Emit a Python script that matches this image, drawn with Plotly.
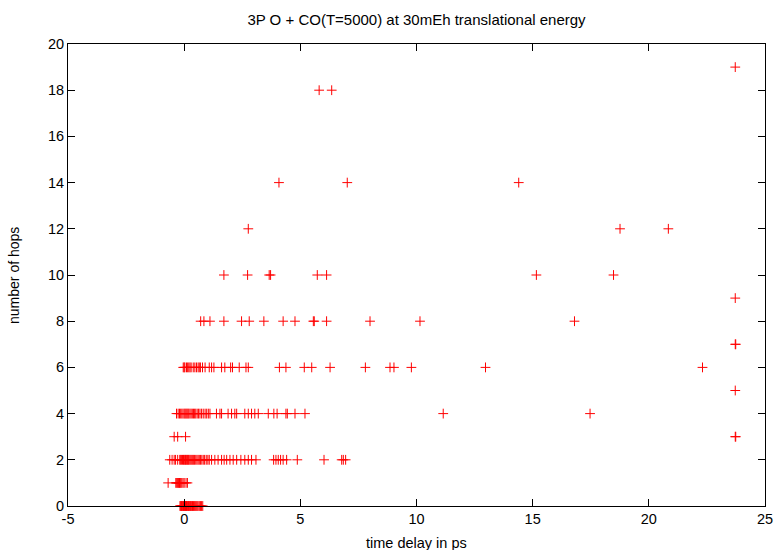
import plotly.graph_objects as go

# ---- data ----
hops_0 = [-0.18, -0.15, -0.12, -0.10, -0.08, -0.05, -0.03, 0.00, 0.02, 0.04, 0.06, 0.08,
          0.10, 0.12, 0.15, 0.18, 0.20, 0.22, 0.25, 0.28, 0.30, 0.33, 0.36, 0.40, 0.44,
          0.48, 0.52, 0.56, 0.60, 0.65, 0.70, 0.75, 0.80]
hops_1 = [-0.69, -0.36, -0.32, -0.28, -0.25, -0.22, -0.20, -0.17, -0.14, -0.10, -0.05,
          0.00, 0.08, 0.14]
hops_2 = [-0.62, -0.52, -0.43, -0.37, -0.28, -0.19, -0.15, -0.11, -0.07, -0.03, 0.00,
          0.03, 0.06, 0.09, 0.12, 0.15, 0.18, 0.21, 0.25, 0.29, 0.33, 0.37, 0.41, 0.45,
          0.50, 0.55, 0.60, 0.65, 0.70, 0.76, 0.82, 0.88, 0.95, 1.02, 1.08, 1.18, 1.32,
          1.46, 1.61, 1.72, 1.83, 1.97, 2.11, 2.26, 2.44, 2.61, 2.76, 2.90, 3.09, 3.85,
          3.95, 4.05, 4.15, 4.26, 4.41, 4.87, 6.02, 6.78, 6.85, 6.95]
hops_3 = [-0.43, -0.28, 0.06, 23.72, 23.74]
hops_4 = [-0.33, -0.26, -0.20, -0.15, -0.10, -0.05, 0.00, 0.04, 0.08, 0.12, 0.16, 0.20,
          0.25, 0.30, 0.35, 0.40, 0.45, 0.50, 0.56, 0.62, 0.68, 0.75, 0.82, 0.90, 0.97,
          1.04, 1.11, 1.39, 1.54, 1.61, 1.89, 2.04, 2.18, 2.26, 2.61, 2.76, 2.90, 3.04,
          3.19, 3.62, 3.86, 4.00, 4.38, 4.44, 4.77, 5.20, 11.15, 17.47]
hops_5 = [23.72]
hops_6 = [-0.04, 0.00, 0.03, 0.10, 0.15, 0.20, 0.25, 0.30, 0.39, 0.46, 0.53, 0.60, 0.65,
          0.70, 0.79, 0.90, 1.08, 1.18, 1.28, 1.61, 1.75, 2.00, 2.08, 2.37, 2.66, 2.76,
          4.10, 4.38, 5.17, 5.49, 6.28, 7.80, 8.86, 9.03, 9.78, 12.97, 22.31]
hops_7 = [23.72, 23.74]
hops_8 = [0.71, 0.85, 1.11, 1.71, 2.47, 2.80, 3.43, 4.26, 4.77, 5.56, 5.60, 6.13, 8.00,
          10.15, 16.80]
hops_9 = [23.72]
hops_10 = [1.71, 2.73, 3.66, 3.72, 5.73, 6.13, 15.16, 18.48]
hops_12 = [2.76, 18.76, 20.84]
hops_14 = [4.08, 7.02, 14.40]
hops_18 = [5.81, 6.35]
hops_19 = [23.72]

rows = {0: hops_0, 1: hops_1, 2: hops_2, 3: hops_3, 4: hops_4, 5: hops_5, 6: hops_6,
        7: hops_7, 8: hops_8, 9: hops_9, 10: hops_10, 12: hops_12, 14: hops_14,
        18: hops_18, 19: hops_19}

x_vals, y_vals = [], []
for n, xs in rows.items():
    x_vals += xs
    y_vals += [n] * len(xs)

x_ticks = [-5, 0, 5, 10, 15, 20, 25]
x_ticktext = ["-5", "0", "5", "10", "15", "20", "25"]
y_ticks = [0, 2, 4, 6, 8, 10, 12, 14, 16, 18, 20]

FONT = "Liberation Sans, Arial, Helvetica, sans-serif"

fig = go.Figure()
fig.add_trace(go.Scatter(
    x=x_vals, y=y_vals, mode="markers", cliponaxis=False,
    marker=dict(symbol="cross-thin", size=7, color="#ff0000",
                line=dict(color="#ff0000", width=1)),
    showlegend=False,
))

axis_common = dict(
    showgrid=False, zeroline=False, showline=True, linecolor="black", linewidth=1,
    mirror="ticks", ticks="inside", ticklen=7, tickcolor="black", tickwidth=1,
    automargin=False,
    tickfont=dict(family=FONT, size=14.5, color="black"),
)

fig.update_layout(
    width=775, height=550,
    margin=dict(l=68, r=10, t=44, b=44),
    paper_bgcolor="white", plot_bgcolor="white",
    font=dict(family=FONT, size=14, color="black"),
    title=dict(text="3P O + CO(T=5000) at 30mEh translational energy",
               xref="paper", x=0.5, xanchor="center",
               yref="container", y=0.9636, yanchor="middle",
               font=dict(family=FONT, size=15, color="black")),
    xaxis=dict(range=[-5, 25], tickvals=x_ticks, ticktext=x_ticktext, **axis_common),
    yaxis=dict(range=[0, 20], tickvals=y_ticks, **axis_common),
    annotations=[
        dict(text="time delay in ps", xref="paper", yref="paper",
             x=0.5, y=-0.0801, xanchor="center", yanchor="middle", showarrow=False,
             font=dict(family=FONT, size=14.5, color="black")),
        dict(text="number of hops", xref="paper", yref="paper",
             x=-0.0775, y=0.5, xanchor="center", yanchor="middle", showarrow=False,
             textangle=-90, font=dict(family=FONT, size=14, color="black")),
    ],
)

fig.write_html("out.html")
